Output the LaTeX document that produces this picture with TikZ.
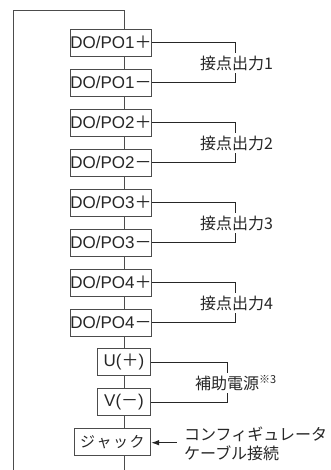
\documentclass[tikz,border=0pt]{standalone}
\usepackage{fontspec}
\setmainfont{Liberation Sans}
\newfontfamily\jp{Noto Sans CJK JP}
\usetikzlibrary{arrows.meta,calc}
\begin{document}
\begin{tikzpicture}[x=1pt,y=-1pt,
  term/.style={draw=black!70, line width=0.8pt, inner sep=0pt, minimum height=27pt, text=black!85, font=\fontsize{17}{17}\selectfont},
  doterm/.style={term, minimum width=80pt},
  wire/.style={draw=black!85, line width=1.1pt},
  trunkline/.style={draw=black!70, line width=0.8pt},
  lbl/.style={font=\jp\fontsize{16}{16}\selectfont, inner sep=0pt, text=black!85}]
\useasboundingbox (0,0) rectangle (331,470);
\coordinate (tx) at (124.7,0);
\coordinate (tl) at (13,10.7);
\coordinate (bl) at (13,470);
\coordinate (bot) at (124.7,470);
% terminals
\node[doterm] (p1p) at (111,42.7) {DO/PO1{\jp ＋}};
\node[doterm] (p1m) at (111,82.7) {DO/PO1{\jp －}};
\node[doterm] (p2p) at (111,122.7) {DO/PO2{\jp ＋}};
\node[doterm] (p2m) at (111,162.7) {DO/PO2{\jp －}};
\node[doterm] (p3p) at (111,202.7) {DO/PO3{\jp ＋}};
\node[doterm] (p3m) at (111,242.7) {DO/PO3{\jp －}};
\node[doterm] (p4p) at (111,282.7) {DO/PO4{\jp ＋}};
\node[doterm] (p4m) at (111,322.7) {DO/PO4{\jp －}};
\node[term, minimum width=53.4pt] (up) at (124,362.3) {U({\jp ＋})};
\node[term, minimum width=53.4pt] (vm) at (124,402.3) {V({\jp －})};
\node[term, minimum width=76.7pt, font=\jp\fontsize{15}{15}\selectfont] (jack) at (112.3,442) {ジ\hspace{1.5pt}ャ\hspace{1.5pt}ッ\hspace{1.5pt}ク};
% trunk
\draw[trunkline] (bl) -- (tl) -| (p1p.north -| tx);
\draw[trunkline] (p1p.south -| tx) -- (p1m.north -| tx);
\draw[trunkline] (p1m.south -| tx) -- (p2p.north -| tx);
\draw[trunkline] (p2p.south -| tx) -- (p2m.north -| tx);
\draw[trunkline] (p2m.south -| tx) -- (p3p.north -| tx);
\draw[trunkline] (p3p.south -| tx) -- (p3m.north -| tx);
\draw[trunkline] (p3m.south -| tx) -- (p4p.north -| tx);
\draw[trunkline] (p4p.south -| tx) -- (p4m.north -| tx);
\draw[trunkline] (p4m.south -| tx) -- (up.north -| tx);
\draw[trunkline] (up.south -| tx) -- (vm.north -| tx);
\draw[trunkline] (vm.south -| tx) -- (jack.north -| tx);
\draw[trunkline] (jack.south -| tx) -- (bot);
% brackets
\foreach \a/\b in {p1p/p1m,p2p/p2m,p3p/p3m,p4p/p4m}{
  \draw[wire] (\a.east) -- ++(83.6,0) -- ++(0,10);
  \draw[wire] (\b.east) -- ++(83.6,0) -- ++(0,-10);
}
\node[lbl] (l1) at (236.5,63.5) {接点出力1};
\node[lbl] (l2) at (236.5,143.5) {接点出力2};
\node[lbl] (l3) at (236.5,223.5) {接点出力3};
\node[lbl] (l4) at (236.5,303.5) {接点出力4};
\draw[wire] (up.east) -- ++(76,0) -- ++(0,10.7);
\draw[wire] (vm.east) -- ++(76,0) -- ++(0,-9.3);
\node[lbl, anchor=west] (aux) at (195,383.5) {補助電源\raisebox{6pt}{\fontsize{11}{11}\selectfont ※3}};
% configurator
\coordinate (astart) at (176.7,442.7);
\draw[wire, -{Latex[length=8pt,width=5.5pt]}] (astart) -- (jack.east |- astart);
\node[lbl, anchor=west] (cfg1) at (184,434) {コンフィギュレータ};
\node[lbl, anchor=west] (cfg2) at (184,453) {ケーブル接続};
\end{tikzpicture}
\end{document}
